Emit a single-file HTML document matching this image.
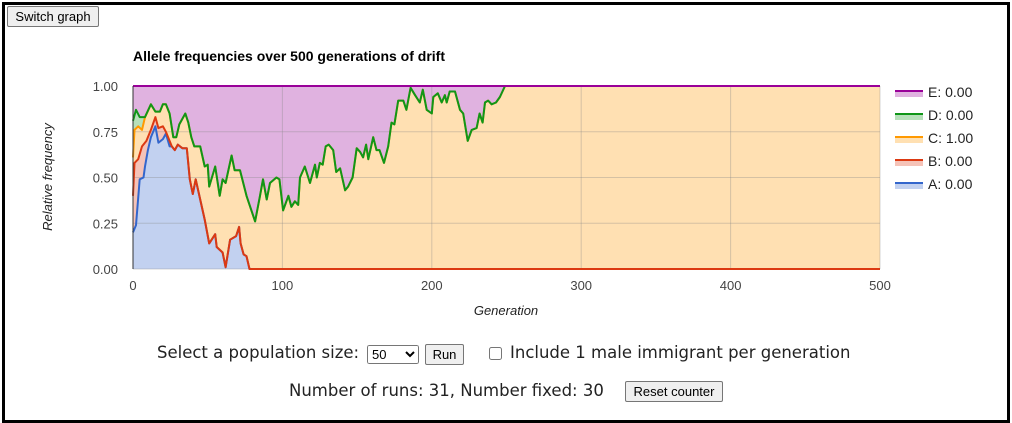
<!DOCTYPE html>
<html><head><meta charset="utf-8"><style>
body{margin:0;width:1012px;height:423px;overflow:hidden;background:#fff;font-family:"Liberation Sans",sans-serif;}
#frame{position:absolute;left:2px;top:2px;width:1002px;height:415px;border:3px solid #000;}
button{font-family:"Liberation Sans",sans-serif;font-size:13px;padding:0 6px;border:1px solid #767676;border-radius:2px;background:#efefef;position:absolute;height:21px;}
.t{position:absolute;font-family:"DejaVu Sans",sans-serif;font-size:16.5px;color:#222;white-space:nowrap;line-height:20px;}
</style></head><body>
<div id="frame"></div>
<button style="left:7px;top:6px;width:92px">Switch graph</button>
<svg id="chart" width="1012" height="330" style="position:absolute;left:0;top:0" font-family="Liberation Sans, sans-serif"></svg>
<div class="t" style="left:157px;top:343px">Select a population size:</div>
<select style="position:absolute;left:367px;top:345px;width:52px;height:19px;font-size:13px"><option>50</option></select>
<button style="left:425px;top:344px;width:39px">Run</button>
<input type="checkbox" style="position:absolute;left:489px;top:347px;margin:0;width:13px;height:13px">
<div class="t" style="left:510px;top:343px">Include 1 male immigrant per generation</div>
<div class="t" style="left:289px;top:381px">Number of runs: 31, Number fixed: 30</div>
<button style="left:625px;top:381px;width:98px">Reset counter</button>
<script>
const yTicks=[0,0.25,0.5,0.75,1];
const yTickLabels=["0.00","0.25","0.50","0.75","1.00"];
const xTicks=[0,100,200,300,400,500];
const alleleNames=["E","D","C","B","A"];
const finalFreqs=["0.00","0.00","1.00","0.00","0.00"];
const dGen=[0,2,4.5,8,12,15,18,20,22,24.5,27,29,31,35,37,39,41,45,48,50,51,55,58,60,62,66,68,71.6,76,81.7,85,87,89.5,91.7,96,98,100.5,104,106,108.4,110.6,111.8,115,118.5,121.8,123,125,127,129,131,134,136,138.6,142,144,147,149.7,152,154,156,157.5,160.8,163,165,168,170.8,173,175,177.5,180.9,183,185.8,188.8,192,194,196.6,200,201,204,206.6,208.8,210,212,215.5,218.9,221,224,226.7,230,232,234,235.6,237.7,240,243,245.6,249,500];
const dCum=[0.81,0.87,0.83,0.83,0.9,0.86,0.86,0.9,0.9,0.85,0.72,0.72,0.79,0.85,0.8,0.72,0.67,0.67,0.56,0.57,0.45,0.56,0.4,0.49,0.47,0.62,0.54,0.54,0.4,0.26,0.4,0.49,0.38,0.47,0.5,0.49,0.32,0.4,0.34,0.37,0.35,0.5,0.56,0.47,0.57,0.5,0.58,0.57,0.67,0.68,0.65,0.53,0.55,0.43,0.45,0.5,0.66,0.64,0.61,0.68,0.6,0.72,0.65,0.65,0.58,0.67,0.8,0.79,0.92,0.92,0.87,0.99,0.95,0.91,0.98,0.87,0.85,0.94,0.96,0.91,0.95,0.91,0.97,0.97,0.87,0.85,0.7,0.76,0.77,0.85,0.8,0.91,0.92,0.9,0.91,0.94,1,1];
const cGen=[0,1,3.5,6,8].concat(dGen.slice(4));
const cCum=[0.61,0.76,0.78,0.76,0.83].concat(dCum.slice(4));
const bGen=[0,1,3.5,6,9,12,15,17,20,22,26,28,30,33,36,38,40,42,45,48,51,55,56,60,62,65,69,71,72,74,76,78,500];
const bCum=[0.4,0.58,0.6,0.67,0.7,0.76,0.83,0.77,0.78,0.75,0.67,0.65,0.68,0.66,0.66,0.49,0.41,0.49,0.38,0.27,0.14,0.19,0.12,0.09,0.01,0.16,0.18,0.23,0.14,0.08,0.07,0,0];
const aGen=[0,2,4.5,7,8,10,12,15,17,20,22,24.5].concat(bGen.slice(10));
const aCum=[0.2,0.24,0.49,0.5,0.56,0.65,0.72,0.78,0.69,0.71,0.74,0.67].concat(bCum.slice(10));
const eGen=[0,500], eCum=[1,1];
const series=[[eGen,eCum,"#990099","rgb(224,178,224)"],[dGen,dCum,"#109618","rgb(183,224,186)"],[cGen,cCum,"#ff9900","rgb(255,224,178)"],[bGen,bCum,"#dc3912","rgb(245,195,184)"],[aGen,aCum,"#3366cc","rgb(194,209,240)"]];
const L=133,R=880,T=86,B=269;
const xs=g=>L+g/500*(R-L), ys=v=>B-v*(B-T);
const svg=document.getElementById('chart');const NS="http://www.w3.org/2000/svg";
function mk(tag,at,txt){const e=document.createElementNS(NS,tag);for(const k in at)e.setAttribute(k,at[k]);if(txt!=null)e.textContent=txt;svg.appendChild(e);return e;}
let e=mk('text',{x:133,y:61,'font-size':14,'font-weight':'bold',fill:'#000'},'Allele frequencies over 500 generations of drift');


series.forEach((s,i)=>{
 const pts=s[0].map((g,j)=>xs(g).toFixed(1)+','+ys(s[1][j]).toFixed(1));
 const a=mk('polygon',{points:pts.join(' ')+' '+xs(s[0][s[0].length-1])+','+B+' '+xs(0)+','+B,fill:s[3]});
 
 
});
yTicks.forEach((v,i)=>{
 const l=mk('line',{x1:L,x2:R,y1:ys(v),y2:ys(v),stroke:'#888','stroke-opacity':0.35});
 
 
 const t=mk('text',{x:118,y:ys(v)+5,'text-anchor':'end','font-size':13,fill:'#444'},yTickLabels[i]);
 
 
});
xTicks.forEach(g=>{
 const l=mk('line',{x1:xs(g),x2:xs(g),y1:T,y2:B,stroke:'#888','stroke-opacity':0.35});
 
 
 const t=mk('text',{x:xs(g),y:290,'text-anchor':'middle','font-size':13,fill:'#444'},String(g));
 
 
});
series.slice().reverse().forEach((s,k)=>{
 const i=series.length-1-k;
 const pts=s[0].map((g,j)=>xs(g).toFixed(1)+','+ys(s[1][j]).toFixed(1));
 const p=mk('polyline',{points:pts.join(' '),fill:'none',stroke:s[2],'stroke-width':2,'stroke-linejoin':'round'});
 
 
});
let ax=mk('line',{x1:L,x2:L,y1:T,y2:B,stroke:'#333'});


e=mk('text',{x:506,y:315,'text-anchor':'middle','font-size':13,'font-style':'italic',fill:'#222'},'Generation');


e=mk('text',{x:0,y:0,'text-anchor':'middle','font-size':13,'font-style':'italic',fill:'#222',transform:'translate(52,177) rotate(-90)'},'Relative frequency');


series.forEach((s,i)=>{
 const y=90+i*23;
 const g=mk('g',{});
 
 
 const r=document.createElementNS(NS,'rect');r.setAttribute('x',895);r.setAttribute('y',y);r.setAttribute('width',28);r.setAttribute('height',7);r.setAttribute('fill',s[3]);g.appendChild(r);
 const l=document.createElementNS(NS,'rect');l.setAttribute('x',895);l.setAttribute('y',y);l.setAttribute('width',28);l.setAttribute('height',2);l.setAttribute('fill',s[2]);g.appendChild(l);
 const t=document.createElementNS(NS,'text');t.setAttribute('x',928);t.setAttribute('y',y+7);t.setAttribute('font-size',14);t.setAttribute('fill','#222');t.textContent=alleleNames[i]+': '+finalFreqs[i];g.appendChild(t);
});
</script>
</body></html>
